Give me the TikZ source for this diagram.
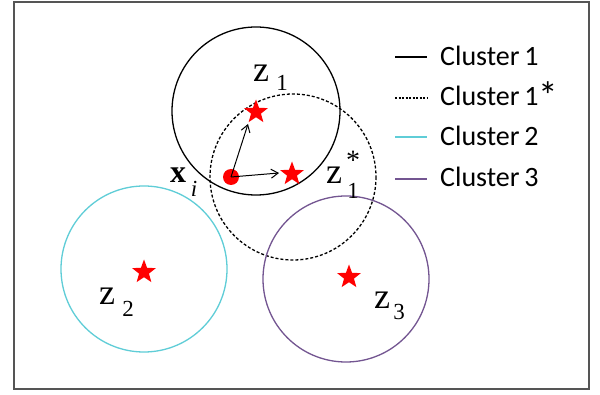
\documentclass[tikz,border=0pt]{standalone}
\usepackage{graphicx}
\usepackage{fontspec}
\setmainfont{Liberation Serif}
\newfontfamily\legfont{Carlito}
\usetikzlibrary{shapes.geometric,arrows.meta}
\definecolor{cyanc}{RGB}{95,205,215}
\definecolor{purc}{RGB}{115,85,145}
\definecolor{framec}{RGB}{85,85,85}
\tikzset{
  ring/.style={line width=1.3pt},
  centre/.style={star, star points=5, star point ratio=2.4, minimum size=25pt, inner sep=0pt, fill=red, draw=none},
  bigl/.style={font=\fontsize{36}{36}\selectfont, inner sep=0pt},
  subl/.style={font=\fontsize{23}{23}\selectfont, inner sep=0pt},
  legtext/.style={font=\legfont\fontsize{28}{28}\selectfont, anchor=base west, inner sep=0pt},
  legline/.style={line width=1.3pt},
  vec/.style={line width=1pt, -{Straight Barb[length=7pt,width=9pt]}}
}
\begin{document}
\begin{tikzpicture}[x=1pt,y=-1pt]
\useasboundingbox (0,0) rectangle (600,395);
\fill[white] (0,0) rectangle (600,395);
\draw[framec, line width=2pt] (14,2) rectangle (589,389);
% circles
\draw[ring, black] (256,111) circle (84);
\draw[ring, black, dash pattern=on 3pt off 2pt] (293,177) circle (83);
\draw[ring, cyanc] (144,269) circle (83);
\draw[ring, purc] (346,279) circle (83);
% centres
\node[centre] (z1) at (256,112) {};
\node[centre] (z1s) at (292,174) {};
\node[centre] (z2) at (144,272) {};
\node[centre] (z3) at (349,277) {};
% point x_i
\node[circle, fill=red, minimum size=16pt, inner sep=0pt] (xi) at (231,177) {};
\coordinate (t1) at (248,124);
\coordinate (t2) at (279,173);
\draw[vec] (xi.center) -- (t1);
\draw[vec] (xi.center) -- (t2);
% labels
\node[bigl] (lz1) at (261,73) {z};
\node[subl] (lz1s) at (282,83) {1};
\node[bigl, font=\fontsize{32}{32}\selectfont\bfseries] (lx) at (178,175) {x};
\node[subl, font=\fontsize{23}{23}\selectfont\itshape] (lxs) at (194,189) {i};
\node[bigl] (lzs) at (334,175) {z};
\node[subl, font=\fontsize{28}{28}\selectfont] (lzss) at (353,160) {*};
\node[subl] (lzs1) at (353,191) {1};
\node[bigl] (lz2) at (107,296) {z};
\node[subl] (lz2s) at (128,309) {2};
\node[bigl] (lz3) at (382,300) {z};
\node[subl] (lz3s) at (399,312) {3};
% legend
\coordinate (a1) at (395,57); \coordinate (b1) at (427,57);
\coordinate (a2) at (395,98); \coordinate (b2) at (427,98);
\coordinate (a3) at (395,137); \coordinate (b3) at (427,137);
\coordinate (a4) at (395,179); \coordinate (b4) at (427,179);
\draw[legline, black] (a1) -- (b1);
\draw[legline, black, dash pattern=on 2pt off 1.5pt] (a2) -- (b2);
\draw[legline, cyanc] (a3) -- (b3);
\draw[legline, purc] (a4) -- (b4);
\node[legtext] (l1) at (440,66) {Cluster\,1};
\node[legtext] (l2) at (440,106) {Cluster\,1\raisebox{-0.12em}{\scalebox{1.4}{*}}};
\node[legtext] (l3) at (440,146) {Cluster\,2};
\node[legtext] (l4) at (440,187) {Cluster\,3};
\end{tikzpicture}
\end{document}
